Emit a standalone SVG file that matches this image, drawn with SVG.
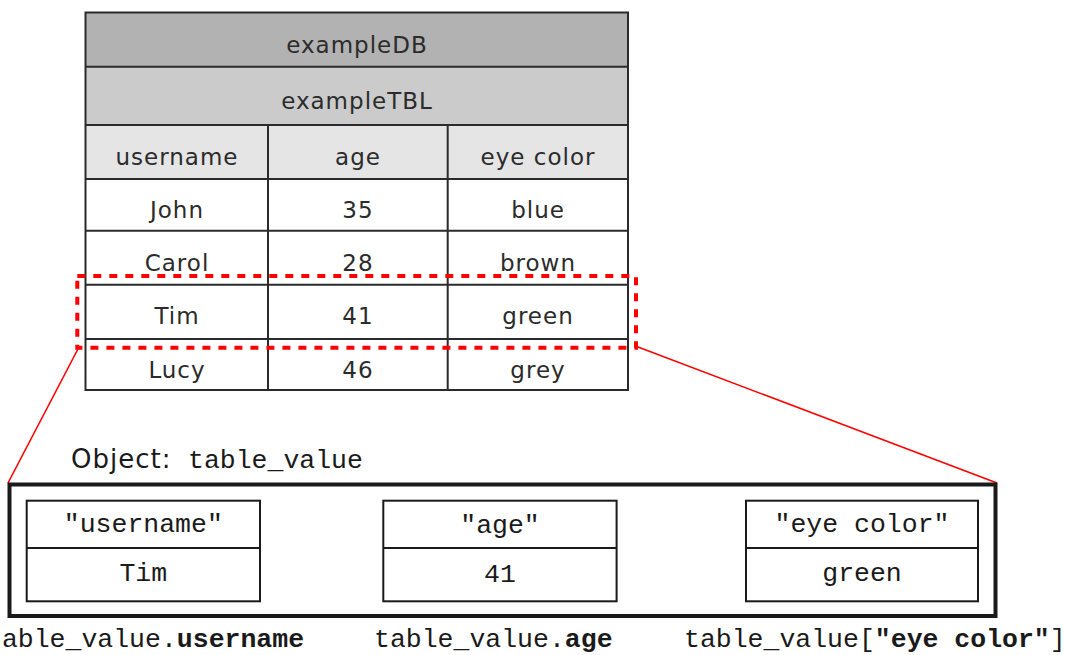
<svg xmlns="http://www.w3.org/2000/svg" width="1065" height="655" viewBox="0 0 1065 655">
<style>
.grid{fill:none;stroke:#2b2b2b;stroke-width:2}
.cell{font-family:"DejaVu Sans",Verdana,sans-serif;font-size:23px;letter-spacing:1px;fill:#2b2b2b;text-anchor:middle}
.mono{font-family:"Liberation Mono","Courier New",monospace;font-size:26.5px;fill:#1a1a1a}
.mid{text-anchor:middle}
.box{fill:#fff;stroke:#1a1a1a;stroke-width:2}
.hl{fill:none;stroke:#ff0000;stroke-width:4;stroke-dasharray:8 8}
.conn{stroke:#ff0000;stroke-width:1.6;fill:none}
b,.b{font-weight:bold}
</style>
<rect width="1065" height="655" fill="#ffffff"/>
<g id="table">
  <rect x="85.5" y="12.5" width="542.5" height="54.2" fill="#b2b2b2"/>
  <rect x="85.5" y="66.7" width="542.5" height="58.3" fill="#cbcbcb"/>
  <rect x="85.5" y="125" width="542.5" height="54" fill="#e5e5e5"/>
  <rect x="85.5" y="179" width="542.5" height="211" fill="#ffffff"/>
  <rect class="grid" x="85.5" y="12.5" width="542.5" height="377.5"/>
  <path class="grid" d="M85.5 66.7H628M85.5 125H628M85.5 179H628M85.5 230.7H628M85.5 284.7H628M85.5 339H628M268 125V390M447.7 125V390"/>
  <text class="cell" x="357" y="52.5">exampleDB</text>
  <text class="cell" x="357" y="109">exampleTBL</text>
  <text class="cell" x="177" y="165">username</text>
  <text class="cell" x="358" y="165">age</text>
  <text class="cell" x="538" y="165">eye color</text>
  <text class="cell" x="177" y="218">John</text>
  <text class="cell" x="358" y="218">35</text>
  <text class="cell" x="538" y="218">blue</text>
  <text class="cell" x="177" y="270.7">Carol</text>
  <text class="cell" x="358" y="270.7">28</text>
  <text class="cell" x="538" y="270.7">brown</text>
  <text class="cell" x="177" y="323.5">Tim</text>
  <text class="cell" x="358" y="323.5">41</text>
  <text class="cell" x="538" y="323.5">green</text>
  <text class="cell" x="177" y="377.5">Lucy</text>
  <text class="cell" x="358" y="377.5">46</text>
  <text class="cell" x="538" y="377.5">grey</text>
</g>
<g id="highlight">
  <rect class="hl" x="77.3" y="276" width="558.7" height="71.7"/>
</g>
<g id="connectors">
  <line class="conn" x1="79" y1="347" x2="8" y2="483"/>
  <line class="conn" x1="638" y1="347" x2="997" y2="483"/>
</g>
<g id="object">
  <text x="71" y="468" font-family="'DejaVu Sans',Verdana,sans-serif" font-size="26px" letter-spacing="1px" fill="#1a1a1a">Object:</text>
  <text class="mono" x="188" y="468">table_value</text>
  <rect x="9.5" y="484.5" width="986" height="131.5" fill="none" stroke="#1a1a1a" stroke-width="4"/>
</g>
<g id="field-username">
  <rect class="box" x="26.7" y="500.7" width="233.3" height="100.6"/>
  <line class="box" x1="26.7" y1="548" x2="260" y2="548"/>
  <text class="mono mid" x="143.3" y="532">"username"</text>
  <text class="mono mid" x="143.3" y="581">Tim</text>
</g>
<g id="field-age">
  <rect class="box" x="383.3" y="500.7" width="233.3" height="100.6"/>
  <line class="box" x1="383.3" y1="548" x2="616.6" y2="548"/>
  <text class="mono mid" x="500" y="533">"age"</text>
  <text class="mono mid" x="500" y="581.5">41</text>
</g>
<g id="field-eyecolor">
  <rect class="box" x="746" y="500.7" width="232" height="100.6"/>
  <line class="box" x1="746" y1="548" x2="978" y2="548"/>
  <text class="mono mid" x="862" y="532">"eye color"</text>
  <text class="mono mid" x="862" y="581">green</text>
</g>
<g id="accessors">
  <text class="mono" x="-14" y="647">table_value.<tspan class="b">username</tspan></text>
  <text class="mono" x="374" y="647">table_value.<tspan class="b">age</tspan></text>
  <text class="mono" x="684" y="647">table_value[<tspan class="b">"eye color"</tspan>]</text>
</g>
</svg>
